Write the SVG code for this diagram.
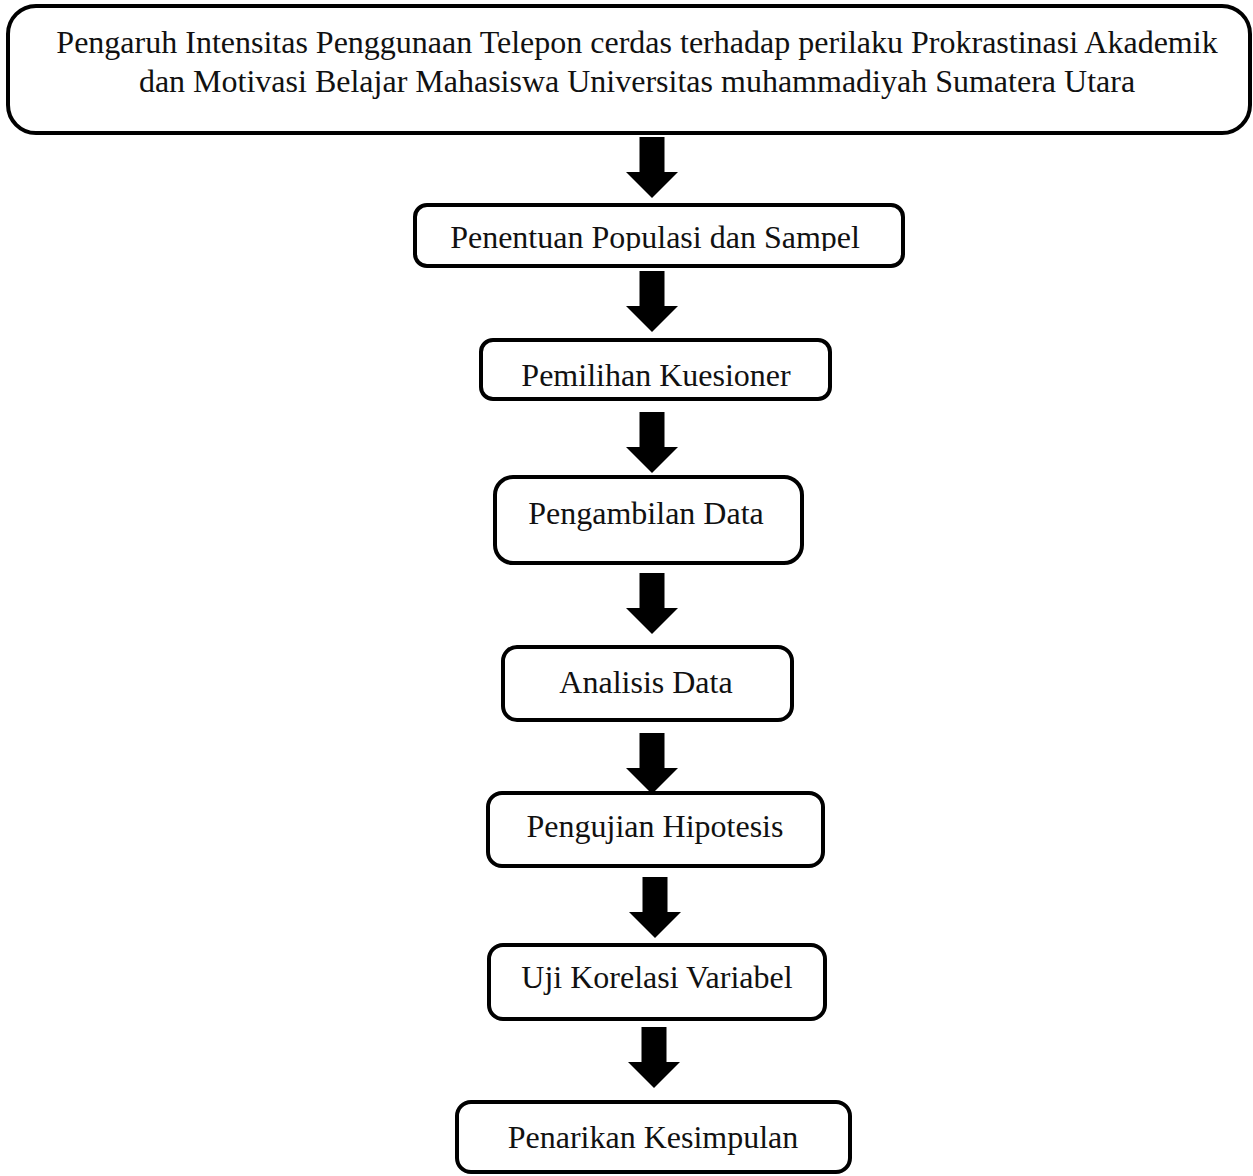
<svg xmlns="http://www.w3.org/2000/svg" xmlns:xlink="http://www.w3.org/1999/xlink" width="1253" height="1176" viewBox="0 0 1253 1176">
<style>
.box{fill:#fff;stroke:#000;stroke-width:4}
.t{font-family:"Liberation Serif","Times New Roman",serif;font-size:32px;fill:#111;text-anchor:middle}
</style>
<defs>
<path id="arrow" d="M-12.5 0H12.5V35H26L0 61L-26 35H-12.5Z" fill="#000"/>
<clipPath id="clip2"><rect x="415" y="205" width="488" height="46"/></clipPath>
</defs>
<rect width="1253" height="1176" fill="#fff"/>
<g id="connectors">
<use xlink:href="#arrow" x="652" y="137"/>
<use xlink:href="#arrow" x="652" y="271"/>
<use xlink:href="#arrow" x="652" y="412"/>
<use xlink:href="#arrow" x="652" y="573"/>
<use xlink:href="#arrow" x="652" y="733"/>
<use xlink:href="#arrow" x="655" y="877"/>
<use xlink:href="#arrow" x="654" y="1027"/>
</g>
<g id="n0">
<rect class="box" x="8" y="6" width="1242" height="127" rx="28"/>
<text class="t" x="637" y="53">Pengaruh Intensitas Penggunaan Telepon cerdas terhadap perilaku Prokrastinasi Akademik</text>
<text class="t" x="637" y="92">dan Motivasi Belajar Mahasiswa Universitas muhammadiyah Sumatera Utara</text>
</g>
<g id="n1">
<rect class="box" x="415" y="205" width="488" height="61" rx="12"/>
<text class="t" x="655" y="248" clip-path="url(#clip2)">Penentuan Populasi dan Sampel</text>
</g>
<g id="n2">
<rect class="box" x="481" y="340" width="349" height="59" rx="12"/>
<text class="t" x="656" y="386">Pemilihan Kuesioner</text>
</g>
<g id="n3">
<rect class="box" x="495" y="477" width="307" height="86" rx="18"/>
<text class="t" x="646" y="524">Pengambilan Data</text>
</g>
<g id="n4">
<rect class="box" x="503" y="647" width="289" height="73" rx="14"/>
<text class="t" x="646" y="693">Analisis Data</text>
</g>
<g id="n5">
<rect class="box" x="488" y="793" width="335" height="73" rx="14"/>
<text class="t" x="655" y="837">Pengujian Hipotesis</text>
</g>
<g id="n6">
<rect class="box" x="489" y="945" width="336" height="74" rx="14"/>
<text class="t" x="657" y="988">Uji Korelasi Variabel</text>
</g>
<g id="n7">
<rect class="box" x="457" y="1102" width="393" height="70" rx="14"/>
<text class="t" x="653" y="1148">Penarikan Kesimpulan</text>
</g>
</svg>
